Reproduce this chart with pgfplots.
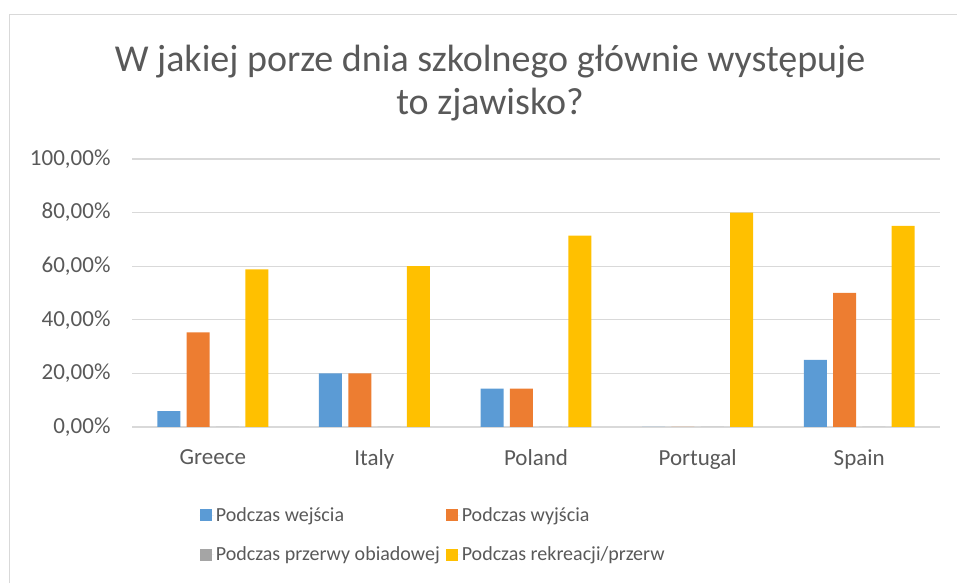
\documentclass[border=0pt]{standalone}
\usepackage{pgfplots}
\pgfplotsset{compat=1.18}
\usepackage{fontspec}
\setmainfont{Carlito}

\definecolor{cblue}{HTML}{5B9BD5}
\definecolor{corange}{HTML}{ED7D31}
\definecolor{cgray}{HTML}{A5A5A5}
\definecolor{cgold}{HTML}{FFC000}
\definecolor{ctext}{HTML}{595959}
\definecolor{cgrid}{HTML}{D9D9D9}

\begin{document}
\begin{tikzpicture}
% page frame, 1pt = 1px of the reference
\path[use as bounding box] (0pt,0pt) rectangle (957pt,583pt);
\draw[cgrid,line width=1.6pt] (9.5pt,0pt) -- (9.5pt,568.5pt) -- (957pt,568.5pt);

\node[text=ctext,font=\fontsize{38}{43}\selectfont,align=center] at (490pt,500pt)
  {W jakiej porze dnia szkolnego głównie występuje\\to zjawisko?};

\begin{axis}[
    at={(132pt,156pt)}, anchor=south west,
    scale only axis,
    width=808pt, height=268pt,
    ybar=6.3pt, bar width=23pt,
    xmin=-0.5, xmax=4.5,
    ymin=0, ymax=100,
    xtick={0,1,2,3,4},
    xticklabels={Greece,Italy,Poland,Portugal,Spain},
    ytick={0,20,40,60,80,100},
    yticklabels={{0,00\%},{20,00\%},{40,00\%},{60,00\%},{80,00\%},{100,00\%}},
    ymajorgrids,
    grid style={cgrid,line width=1.3pt},
    axis x line*=bottom,
    axis y line*=left,
    x axis line style={cgrid,line width=1.3pt},
    y axis line style={draw=none},
    tick style={draw=none},
    ticklabel style={text=ctext,font=\fontsize{23}{27}\selectfont},
    /pgf/number format/assume math mode=true,
    xticklabel style={yshift=-15pt},
    yticklabel style={xshift=-18pt},
    legend columns=2,
    legend cell align=left,
    legend style={
        at={(0.08,-0.285)}, anchor=north west,
        draw=none, fill=none,
        font=\fontsize{20}{24}\selectfont, text=ctext,
        /tikz/every even column/.append style={column sep=4pt},
        row sep=20pt,
    },
    legend image code/.code={\fill[#1] (0pt,-6pt) rectangle (12pt,6pt);\path (0pt,0pt) -- (14pt,0pt);},
]
\addplot[fill=cblue, draw=none] coordinates {(0,5.88) (1,20) (2,14.29) (3,0) (4,25)};
\addlegendentry{Podczas wejścia}
\addplot[fill=corange, draw=none] coordinates {(0,35.29) (1,20) (2,14.29) (3,0) (4,50)};
\addlegendentry{Podczas wyjścia}
\addplot[fill=cgray, draw=none] coordinates {(0,0) (1,0) (2,0) (3,0) (4,0)};
\addlegendentry{Podczas przerwy obiadowej}
\addplot[fill=cgold, draw=none] coordinates {(0,58.82) (1,60) (2,71.43) (3,80) (4,75)};
\addlegendentry{Podczas rekreacji/przerw}
\end{axis}
\end{tikzpicture}
\end{document}
